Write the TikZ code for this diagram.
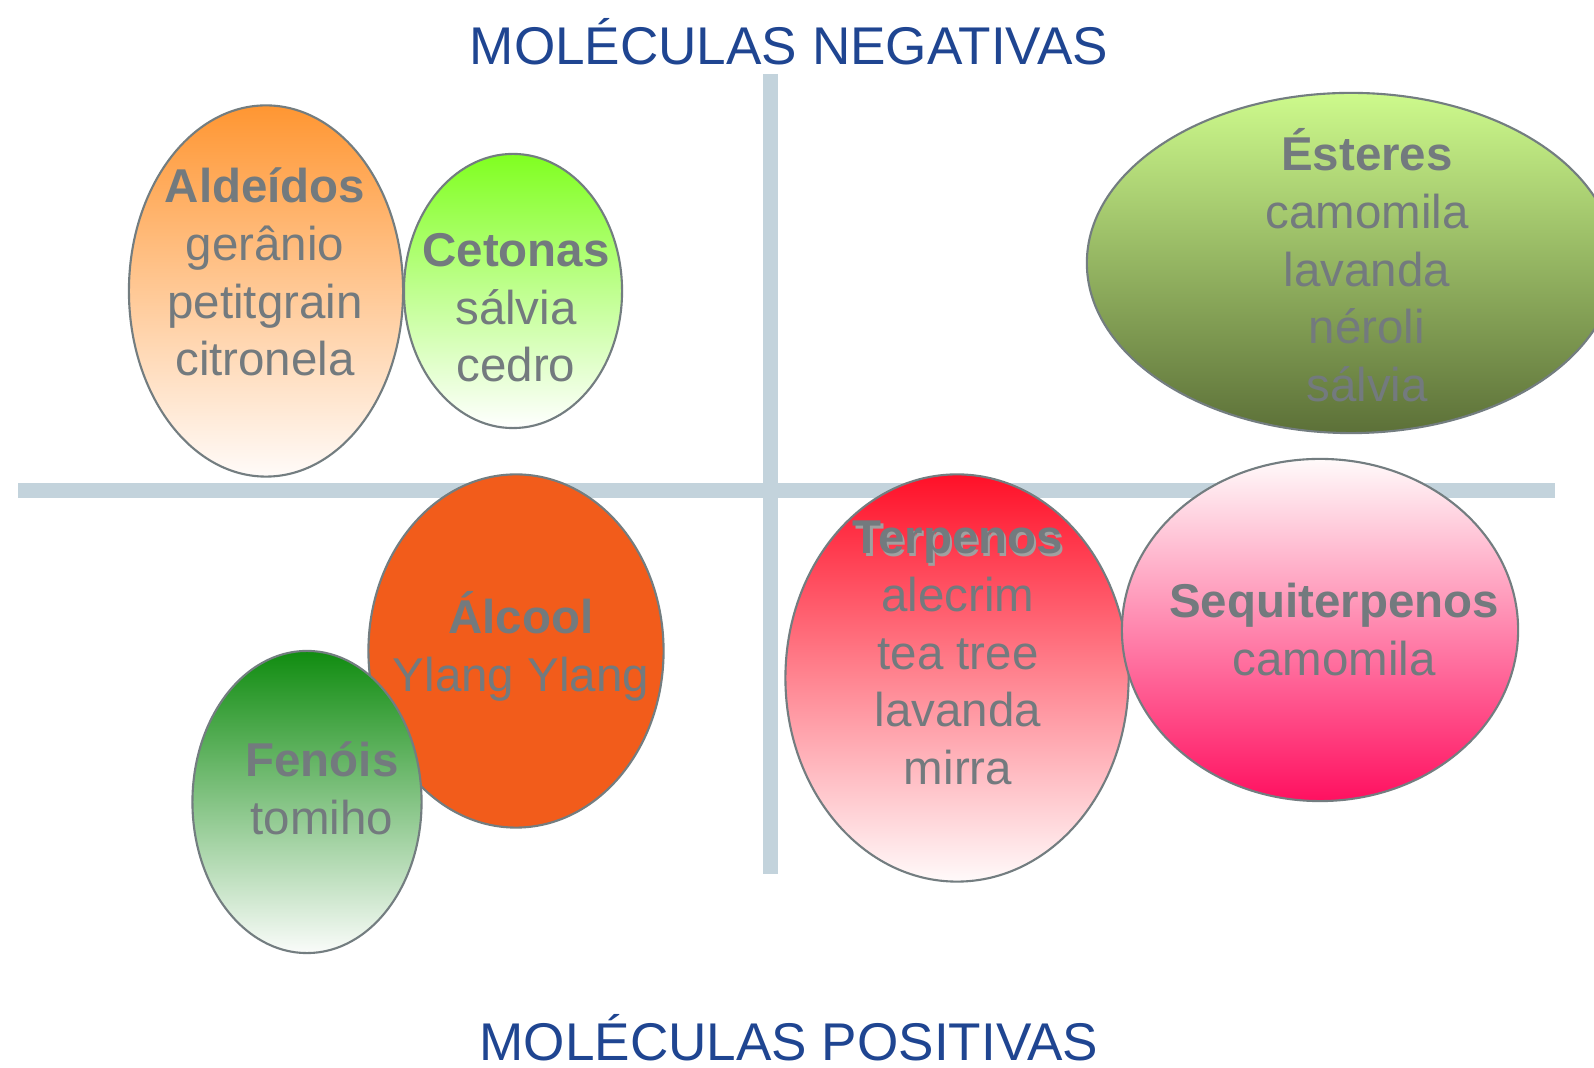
\documentclass[tikz,border=0pt]{standalone}
\usepackage{fontspec}
\setmainfont{Liberation Sans}
\usetikzlibrary{shapes.geometric}
\definecolor{txtgray}{RGB}{115,122,126}
\definecolor{shadegray}{RGB}{160,160,160}
\definecolor{titleblue}{RGB}{31,69,145}
\definecolor{barblue}{RGB}{195,211,220}
\definecolor{rimgray}{RGB}{115,125,128}
\newcommand{\ls}{\rule[-5pt]{0pt}{16.4pt}}
\begin{document}
\begin{tikzpicture}[x=0.01cm, y=-0.01cm,
    blob/.style={shape=ellipse, draw=rimgray, line width=0.6pt, inner sep=0pt},
    txt/.style={text=txtgray, align=center, inner sep=0pt, font=\fontsize{13.5}{16.4}\selectfont},
    heading/.style={text=titleblue, inner sep=0pt, anchor=base, font=\fontsize{15.1}{18}\selectfont},
    bar/.style={draw=barblue, line width=0.15cm}]
    \useasboundingbox (0,0) rectangle (1594,1068);
    \clip (0,0) rectangle (1594,1068);
    \fill [white] (0,0) rectangle (1594,1068);
    \draw [bar] (770,74) -- (770,874);
    \draw [bar] (18,491) -- (1555,491);
    \path (789,65) node (neg) [heading] {MOLÉCULAS NEGATIVAS}
    (789,1061) node (pos) [heading] {MOLÉCULAS POSITIVAS};
    \path (266,291) node (ald) [blob, minimum width=2.74cm, minimum height=3.71cm,
        top color={rgb,255:red,255;green,150;blue,50}, middle color={rgb,255:red,255;green,205;blue,175},
        bottom color={rgb,255:red,255;green,251;blue,249}] {}
    (265,278) node (aldtxt) [txt] {\ls\textbf{Aldeídos}\\ \ls gerânio\\ \ls petitgrain\\ \ls citronela};
    \path (513,291) node (cet) [blob, minimum width=2.18cm, minimum height=2.74cm,
        top color={rgb,255:red,128;green,255;blue,32}, bottom color=white] {}
    (516,313) node (cettxt) [txt] {\ls\textbf{Cetonas}\\ \ls sálvia\\ \ls cedro};
    \path (1351,263) node (est) [blob, minimum width=5.28cm, minimum height=3.40cm,
        top color={rgb,255:red,205;green,250;blue,140}, bottom color={rgb,255:red,92;green,112;blue,56}] {}
    (1367,274) node (esttxt) [txt] {\ls\textbf{Ésteres}\\ \ls camomila\\ \ls lavanda\\ \ls néroli\\ \ls sálvia};
    \path (516,651) node (alc) [blob, minimum width=2.95cm, minimum height=3.53cm,
        fill={rgb,255:red,242;green,92;blue,27}] {}
    (521,650) node (alctxt) [txt] {\ls\textbf{Álcool}\\ \ls Ylang Ylang};
    \path (307,802) node (fen) [blob, minimum width=2.29cm, minimum height=3.02cm,
        top color={rgb,255:red,16;green,140;blue,16}, bottom color={rgb,255:red,250;green,252;blue,250}] {}
    (322,794) node (fentxt) [txt] {\ls\textbf{Fenóis}\\ \ls tomiho};
    \path (957,678) node (ter) [blob, minimum width=3.43cm, minimum height=4.07cm,
        top color={rgb,255:red,255;green,16;blue,40}, middle color={rgb,255:red,255;green,165;blue,170},
        bottom color={rgb,255:red,255;green,250;blue,250}] {}
    (958,658) node (tertxt) [txt] {\ls\makebox[0pt][l]{\raisebox{-0.6pt}{\kern0.6pt\textcolor{shadegray}{\textbf{Terpenos}}}}\textbf{Terpenos}\\ \ls alecrim\\ \ls tea tree\\ \ls lavanda\\ \ls mirra};
    \path (1320,630) node (seq) [blob, minimum width=3.96cm, minimum height=3.42cm,
        top color={rgb,255:red,255;green,250;blue,250}, middle color={rgb,255:red,255;green,190;blue,205},
        bottom color={rgb,255:red,255;green,16;blue,96}] {}
    (1334,635) node (seqtxt) [txt] {\ls\textbf{Sequiterpenos}\\ \ls camomila};
\end{tikzpicture}
\end{document}
